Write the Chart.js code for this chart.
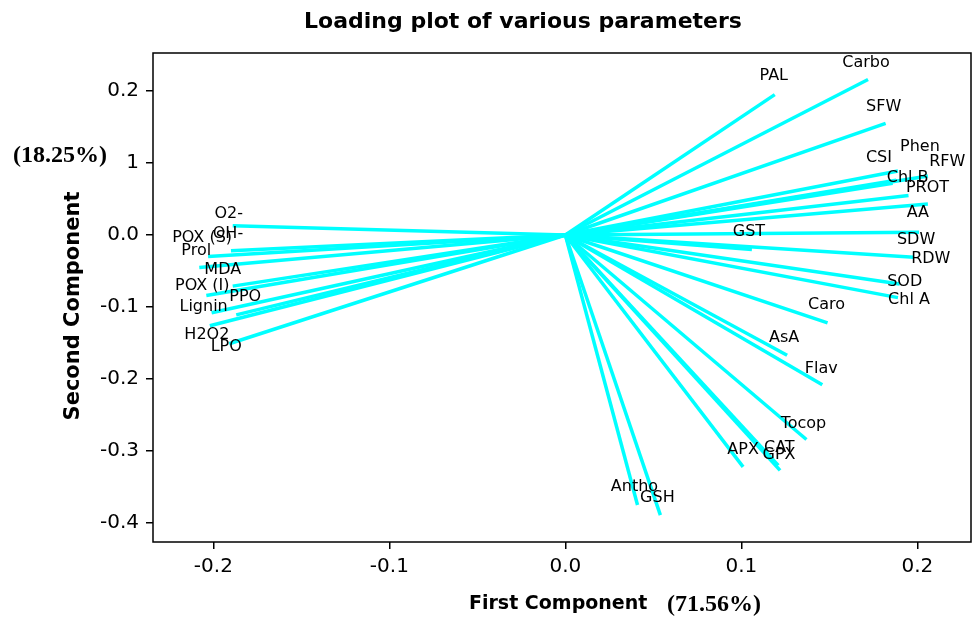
<!DOCTYPE html>
<html>
<head>
<meta charset="utf-8">
<script src="https://cdn.jsdelivr.net/npm/chart.js@4/dist/chart.umd.min.js"></script>
<style>
  html, body { margin: 0; padding: 0; background: #fff; }
  #wrap { width: 975px; height: 619px; position: relative; }
</style>
</head>
<body>
<div id="wrap"><canvas id="loadings"></canvas></div>
<script>
// Loading plot — PC1 vs PC2

const variables = ['PAL','Carbo','SFW','CSI','Phen','RFW','Chl B','PROT','AA','SDW','GST','RDW','SOD','Chl A',
  'Caro','AsA','Flav','Tocop','APX','CAT','GPX','Antho','GSH',
  'O2-','OH-','POX (S)','Prol','MDA','POX (I)','Lignin','PPO','H2O2','LPO'];
const firstComp = [0.119, 0.172, 0.182, 0.189, 0.206, 0.188, 0.186, 0.195, 0.206, 0.201, 0.106, 0.198, 0.190, 0.189,
  0.149, 0.126, 0.146, 0.137, 0.101, 0.121, 0.122, 0.041, 0.054,
  -0.189, -0.190, -0.203, -0.208, -0.189, -0.204, -0.201, -0.187, -0.202, -0.191];
const secondComp = [0.195, 0.216, 0.155, 0.089, 0.082, 0.076, 0.072, 0.055, 0.043, 0.004, -0.020, -0.031, -0.068, -0.087,
  -0.122, -0.167, -0.208, -0.284, -0.322, -0.320, -0.327, -0.375, -0.389,
  0.013, -0.022, -0.030, -0.045, -0.071, -0.084, -0.108, -0.111, -0.126, -0.151];
const xTicks = [-0.2, -0.1, 0.0, 0.1, 0.2];
const yTicks = [-0.4, -0.3, -0.2, -0.1, 0.0, 0.1, 0.2];

// where each label sits relative to its line end (px)
const labelNudge = [[-1,-19],[-2,-17],[-2,-17],[-19,-13],[-8,-29],[51,-18],[15,-5],[19,-8],[-10,9],[-3,8],[-3,-18],[17,2],[5,-2],[11,2],
  [-1,-18],[-3,-17],[-1,-16],[-3,-16],[0,-17],[1,-18],[-1,-16],[-3,-18],[-3,-17],
  [-4,-12],[-3,-17],[-6,-19],[-3,-17],[-10,-16],[-4,-10],[-8,-6],[9,-18],[-3,9],[-3,3]];

const CYAN = '#00ffff';

const datasets = variables.map((name, i) => ({
  label: name,
  data: [{ x: 0, y: 0 }, { x: firstComp[i], y: secondComp[i] }],
  showLine: true,
  borderColor: CYAN,
  borderWidth: 3.5,
  pointRadius: 0,
  borderCapStyle: 'butt'
}));

const labelsAndFrame = {
  id: 'labelsAndFrame',
  afterDatasetsDraw(chart) {
    const { ctx, chartArea: a, scales: { x, y } } = chart;
    ctx.save();
    ctx.fillStyle = '#000';
    ctx.font = '16px "DejaVu Sans"';
    ctx.textAlign = 'center';
    ctx.textBaseline = 'middle';
    variables.forEach((name, i) => {
      const px = x.getPixelForValue(firstComp[i]) + labelNudge[i][0];
      const py = y.getPixelForValue(secondComp[i]) + labelNudge[i][1];
      ctx.fillText(name, px, py);
    });
    ctx.strokeStyle = '#000';
    ctx.lineWidth = 1.5;
    ctx.strokeRect(a.left, a.top, a.right - a.left, a.bottom - a.top);
    ctx.restore();
  },
  afterDraw(chart) {
    const { ctx } = chart;
    ctx.save();
    ctx.fillStyle = '#000';
    // title
    ctx.textAlign = 'center';
    ctx.textBaseline = 'alphabetic';
    ctx.font = 'bold 22px "DejaVu Sans"';
    ctx.fillText('Loading plot of various parameters', 523, 28);
    // x axis title
    ctx.textAlign = 'left';
    ctx.font = 'bold 19px "DejaVu Sans"';
    ctx.fillText('First Component', 469, 609);
    ctx.font = 'bold 24px "Liberation Serif"';
    ctx.fillText('(71.56%)', 667, 611);
    ctx.fillText('(18.25%)', 13, 162);
    // y axis title
    ctx.translate(74, 306);
    ctx.rotate(-Math.PI / 2);
    ctx.textAlign = 'center';
    ctx.textBaseline = 'middle';
    ctx.font = 'bold 21px "DejaVu Sans"';
    ctx.fillText('Second Component', 0, 0);
    ctx.restore();
  }
};

new Chart(document.getElementById('loadings'), {
  type: 'scatter',
  data: { datasets },
  options: {
    responsive: true,
    maintainAspectRatio: false,
    animation: false,
    layout: { padding: { top: 53, right: 4, left: 0, bottom: 0 } },
    plugins: { legend: { display: false }, tooltip: { enabled: false } },
    scales: {
      x: {
        type: 'linear', min: -0.2343, max: 0.2305,
        afterBuildTicks: s => { s.ticks = xTicks.map(v => ({ value: v })); },
        afterFit: s => { s.height = 77; },
        grid: { drawOnChartArea: false, drawTicks: true, tickLength: 7, color: '#000', lineWidth: 1.5 },
        border: { display: false },
        ticks: { color: '#000', font: { family: 'DejaVu Sans', size: 20 }, padding: 6, maxRotation: 0,
          callback: v => v.toFixed(1) }
      },
      y: {
        type: 'linear', min: -0.4264, max: 0.2528,
        afterBuildTicks: s => { s.ticks = yTicks.map(v => ({ value: v })); },
        afterFit: s => { s.width = 153; },
        grid: { drawOnChartArea: false, drawTicks: true, tickLength: 7, color: '#000', lineWidth: 1.5 },
        border: { display: false },
        ticks: { color: '#000', font: { family: 'DejaVu Sans', size: 20 }, padding: 7,
          callback: v => (Math.abs(v - 0.1) < 1e-9 ? '1' : v.toFixed(1)) }
      }
    }
  },
  plugins: [labelsAndFrame]
});
</script>
</body>
</html>
